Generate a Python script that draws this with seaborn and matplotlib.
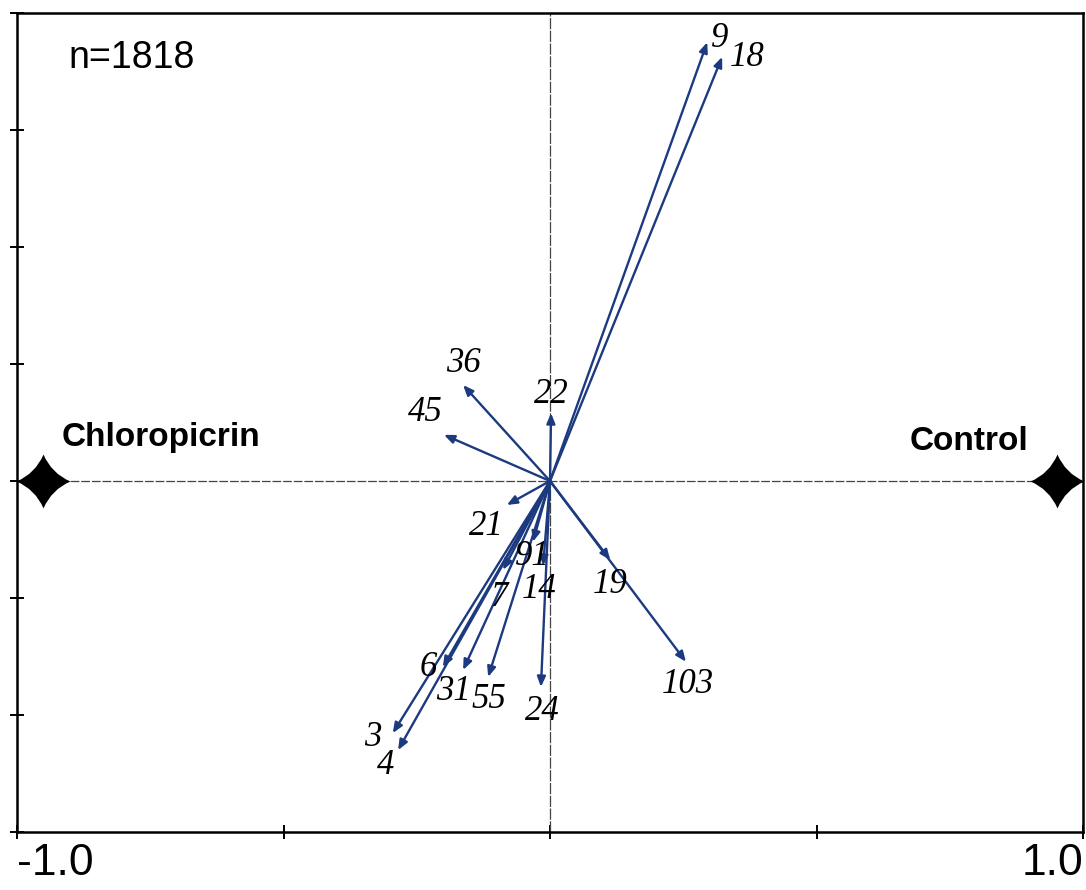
import matplotlib
matplotlib.use("Agg")
import matplotlib.pyplot as plt
from matplotlib.path import Path
import numpy as np
import pandas as pd
import seaborn as sns

# Species scores (arrow tips) on the two ordination axes
species = ["9", "18", "36", "45", "22", "21", "91", "14", "7",
           "19", "103", "6", "31", "55", "24", "3", "4"]
axis1 = [0.295, 0.323, -0.163, -0.199, 0.002, -0.081, -0.032, -0.013, -0.088,
         0.113, 0.255, -0.201, -0.163, -0.116, -0.017, -0.295, -0.285]
axis2 = [0.750, 0.725, 0.164, 0.079, 0.116, -0.041, -0.104, -0.145, -0.152,
         -0.135, -0.309, -0.318, -0.323, -0.335, -0.352, -0.431, -0.460]

# Treatment centroids
treatments = ["Chloropicrin", "Control"]
treat_x = [-0.951, 0.951]
treat_y = [0.0, 0.0]

sample_label = "n=1818"

# label offsets from the arrow tips, in pixels
label_offsets = [(12, 4), (25, -1), (0, 22), (-19, 22), (0, 19), (-20, -22),
                 (-1, -15), (-4, -24), (-3, -28), (0, -25), (2, -23),
                 (-15, 0), (-10, -22), (1, -23), (1, -25), (-20, -4), (-12, -15)]

sns.set_style("white")
plt.rcParams.update({
    "text.color": "black",
    "xtick.color": "black",
    "ytick.color": "black",
    "axes.edgecolor": "black",
})

arrow_color = "#1c3a80"

fig = plt.figure(figsize=(10.86, 8.90), dpi=100)
ax = fig.add_axes([17 / 1086, 58 / 890, 1066 / 1086, 819 / 890])

ax.set_xlim(-1.0, 1.0)
ax.set_ylim(-0.6, 0.8)

# centre cross
ax.axhline(0, color="#444444", lw=0.9, ls=(0, (7, 1.5)), zorder=1)
ax.axvline(0, color="#444444", lw=0.9, ls=(0, (9, 1.2)), zorder=1)

# species arrows
for name, x, y, off in zip(species, axis1, axis2, label_offsets):
    ax.annotate("", xy=(x, y), xytext=(0, 0),
                arrowprops=dict(arrowstyle="-|>,head_length=0.6,head_width=0.25",
                                color=arrow_color, lw=1.7,
                                shrinkA=0, shrinkB=0),
                zorder=3)
    ax.annotate(name, xy=(x, y), xytext=off, textcoords="offset pixels",
                ha="center", va="center", fontsize=25, style="italic",
                family=["Liberation Serif", "DejaVu Serif"], color="black",
                zorder=4)

# four-pointed star marker with concave sides
c = 0.3
star_verts = [(0, 1), (c, c), (1, 0), (c, -c), (0, -1), (-c, -c), (-1, 0),
              (-c, c), (0, 1)]
star_codes = [Path.MOVETO] + [Path.CURVE3, Path.CURVE3] * 4
star = Path(star_verts, star_codes)

df_t = pd.DataFrame({"x": treat_x, "y": treat_y, "treatment": treatments})
sns.scatterplot(data=df_t, x="x", y="y", marker=star, s=1500,
                color="black", edgecolor="black", linewidth=0, ax=ax,
                zorder=5, clip_on=False, legend=False)

label_font = ["Liberation Sans", "DejaVu Sans"]
ax.text(-0.916, 0.060, treatments[0], fontsize=24, fontweight="bold",
        family=label_font, ha="left", va="baseline")
ax.text(0.898, 0.053, treatments[1], fontsize=24, fontweight="bold",
        family=label_font, ha="right", va="baseline")

ax.text(0.048, 0.945, sample_label, transform=ax.transAxes, fontsize=27,
        family=["Liberation Sans", "DejaVu Sans"], ha="left", va="center")

# axes frame and ticks
for sp in ax.spines.values():
    sp.set_visible(True)
    sp.set_color("black")
    sp.set_linewidth(1.8)

ax.set_xticks([-1.0, -0.5, 0.0, 0.5, 1.0])
ax.set_xticklabels(["-1.0", "", "", "", "1.0"])
ax.set_yticks([-0.6, -0.4, -0.2, 0.0, 0.2, 0.4, 0.6, 0.8])
ax.set_yticklabels([])
ax.tick_params(axis="both", direction="inout", length=10, width=1.4,
               color="black", bottom=True, left=True, top=False, right=False)
ax.tick_params(axis="x", labelsize=32, pad=3)
for lbl in ax.get_xticklabels():
    lbl.set_family(["Liberation Sans", "DejaVu Sans"])
labels = ax.get_xticklabels()
labels[0].set_ha("left")
labels[-1].set_ha("right")
ax.set_xlabel("")
ax.set_ylabel("")

fig.savefig("out.png", dpi=100)
